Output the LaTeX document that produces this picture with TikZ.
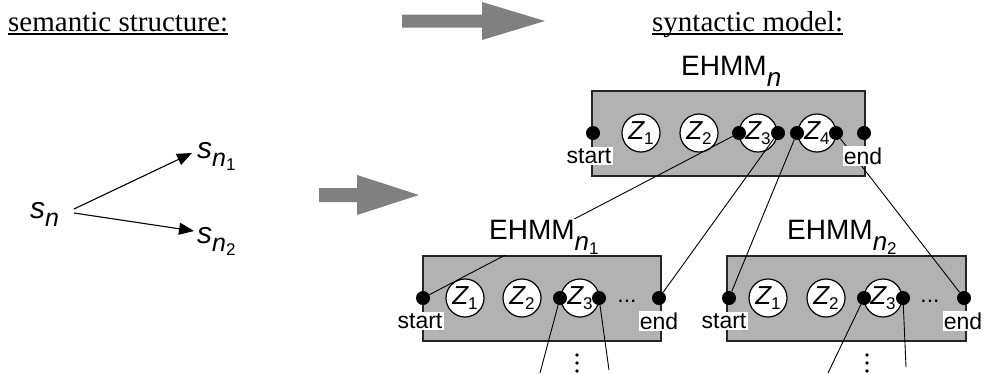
\documentclass[tikz,border=0pt]{standalone}
\usepackage{fontspec}
\setmainfont{Liberation Sans}
\newfontfamily\tnr{Liberation Serif}
\usetikzlibrary{arrows.meta}
\definecolor{boxgray}{gray}{0.70}
\definecolor{arrgray}{gray}{0.50}
\newcommand\zlab[1]{{\fontsize{26}{26}\selectfont\itshape Z}\raisebox{-5pt}{\fontsize{17}{17}\selectfont #1}}
\newcommand\ehmm[1]{{\fontsize{28}{28}\selectfont EHMM}\raisebox{-11pt}{\fontsize{26}{26}\selectfont\itshape n\raisebox{-4pt}{\upshape\fontsize{17}{17}\selectfont #1}}}
\newcommand\slabel[1]{{\fontsize{30}{30}\selectfont\itshape s}\raisebox{-8pt}{\fontsize{25}{25}\selectfont\itshape n\raisebox{-4pt}{\upshape\fontsize{17}{17}\selectfont #1}}}
\tikzset{
  hbox/.style={draw=black!85, line width=1.6pt, fill=boxgray, inner sep=0pt},
  zc/.style={circle, draw=black, line width=1.2pt, fill=white, minimum size=38pt, inner sep=0pt},
  dot/.style={circle, fill=black, minimum size=14pt, inner sep=0pt},
  lbl/.style={fill=white, inner sep=1.2pt, font=\fontsize{23}{23}\selectfont},
  conn/.style={line width=0.9pt},
  sarr/.style={line width=1.1pt, -{Triangle[length=15pt,width=12pt]}},
  title/.style={anchor=base west, inner sep=0pt, font=\tnr\fontsize{29}{34}\selectfont},
  ehmmlab/.style={anchor=base west, inner sep=0pt}
}
\begin{document}
\begin{tikzpicture}[x=1pt,y=-1pt]
\useasboundingbox (0,0) rectangle (986,373);
% titles
\node[title] (t1) at (8,31) {semantic structure:};
\node[title] (t2) at (652,31) {syntactic model:};
\draw[line width=1.2pt] ([yshift=-3pt]t1.base west) -- ([yshift=-3pt]t1.base east);
\draw[line width=1.2pt] ([yshift=-3pt]t2.base west) -- ([yshift=-3pt]t2.base east);
% grey arrows
\fill[arrgray] (402,14.5) -- (482,14.5) -- (482,2) -- (545,21) -- (482,40) -- (482,27.5) -- (402,27.5) -- cycle;
\fill[arrgray] (319,188) -- (357,188) -- (357,175) -- (419,195) -- (357,215) -- (357,202) -- (319,202) -- cycle;
% semantic structure
\node[anchor=base west, inner sep=0pt] (sn) at (30,218) {\slabel{}};
\node[anchor=base west, inner sep=0pt] (sn1) at (197,158) {\slabel{1}};
\node[anchor=base west, inner sep=0pt] (sn2) at (197,243) {\slabel{2}};
\coordinate (p0a) at (74,209);
\coordinate (p0b) at (74,213);
\coordinate (p1) at (192,153);
\coordinate (p2) at (194,231);
\draw[sarr] (p0a) -- (p1);
\draw[sarr] (p0b) -- (p2);
% boxes
\node[hbox, minimum width=273pt, minimum height=85pt] (T) at (728.5,133.5) {};
\node[hbox, minimum width=238pt, minimum height=85pt] (L) at (542,298.5) {};
\node[hbox, minimum width=239pt, minimum height=85pt] (R) at (846.5,298.5) {};
% top circles
\node[zc] (T1) at (641,133) {\zlab{1}};
\node[zc] (T2) at (699,133) {\zlab{2}};
\node[zc] (T3) at (758,133) {\zlab{3}};
\node[zc] (T4) at (817,133) {\zlab{4}};
% lower-left circles
\node[zc] (L1) at (465,298) {\zlab{1}};
\node[zc] (L2) at (522,298) {\zlab{2}};
\node[zc] (L3) at (580,298) {\zlab{3}};
\node[inner sep=0pt, anchor=base, font=\fontsize{23}{23}\selectfont] (Ldots) at (627,302) {...};
% lower-right circles
\node[zc] (R1) at (768,298) {\zlab{1}};
\node[zc] (R2) at (826,298) {\zlab{2}};
\node[zc] (R3) at (883,298) {\zlab{3}};
\node[inner sep=0pt, anchor=base, font=\fontsize{23}{23}\selectfont] (Rdots) at (930,302) {...};
% dots
\node[dot] (Ts) at (593,133) {};
\node[dot] (T3l) at (739,133) {};
\node[dot] (T3r) at (778,133) {};
\node[dot] (T4l) at (797,133) {};
\node[dot] (T4r) at (836,133) {};
\node[dot] (Te) at (864,133) {};
\node[dot] (Ls) at (423,298) {};
\node[dot] (L3l) at (560,298) {};
\node[dot] (L3r) at (599,298) {};
\node[dot] (Le) at (659,298) {};
\node[dot] (Rs) at (729,298) {};
\node[dot] (R3l) at (864,298) {};
\node[dot] (R3r) at (903,298) {};
\node[dot] (Re) at (964,298) {};
% free ends
\coordinate (Lb1) at (540,373);
\coordinate (Lb2) at (609,370);
\coordinate (Rb1) at (828,373);
\coordinate (Rb2) at (906,367);
% connectors
\draw[conn] (T3l) -- (Ls);
\draw[conn] (T3r) -- (Le);
\draw[conn] (T4l) -- (Rs);
\draw[conn] (T4r) -- (Re);
\draw[conn] (L3l) -- (Lb1);
\draw[conn] (L3r) -- (Lb2);
\draw[conn] (R3l) -- (Rb1);
\draw[conn] (R3r) -- (Rb2);
% vertical dots
\fill (577,355) circle (1.8) (577,363) circle (1.8) (577,371) circle (1.8);
\fill (867,355) circle (1.8) (867,363) circle (1.8) (867,371) circle (1.8);
% start / end labels
\node[lbl] (Tst) at ([shift={(-4,23)}]Ts.center) {start};
\node[lbl] (Ten) at ([shift={(-1,23)}]Te.center) {end};
\node[lbl] (Lst) at ([shift={(-3,23)}]Ls.center) {start};
\node[lbl] (Len) at ([shift={(0,23)}]Le.center) {end};
\node[lbl] (Rst) at ([shift={(-5,23)}]Rs.center) {start};
\node[lbl] (Ren) at ([shift={(-1,23)}]Re.center) {end};
% EHMM labels
\node[ehmmlab] (ET) at (681,75) {\ehmm{}};
\node[ehmmlab, fill=white, inner ysep=1pt] (EL) at (489,239) {\ehmm{1}};
\node[ehmmlab] (ER) at (787,239) {\ehmm{2}};
\end{tikzpicture}
\end{document}
